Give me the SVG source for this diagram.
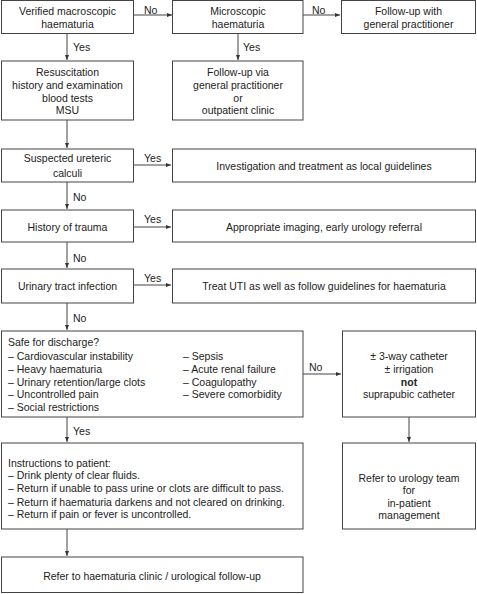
<svg xmlns="http://www.w3.org/2000/svg" width="477" height="594" viewBox="0 0 477 594">
<style>
.b{fill:#fff;stroke:#444;stroke-width:1}
.t{font-family:"Liberation Sans",Arial,sans-serif;font-size:10.5px;fill:#222}
.c{text-anchor:middle}
.l{fill:none;stroke:#444;stroke-width:1}
</style>
<defs>
<marker id="a" markerWidth="6" markerHeight="6" refX="5" refY="3" orient="auto" markerUnits="userSpaceOnUse">
<path d="M0,1 L5,3 L0,5 Z" fill="#333"/>
</marker>
</defs>
<rect width="477" height="594" fill="#fff"/>
<g id="connectors">
<path class="l" d="M134,15 H172" marker-end="url(#a)"/>
<path class="l" d="M303,15 H340" marker-end="url(#a)"/>
<path class="l" d="M67,33 V60" marker-end="url(#a)"/>
<path class="l" d="M238,33 V60" marker-end="url(#a)"/>
<path class="l" d="M67,120 V148" marker-end="url(#a)"/>
<path class="l" d="M134,165 H171" marker-end="url(#a)"/>
<path class="l" d="M67,182 V209" marker-end="url(#a)"/>
<path class="l" d="M134,227 H171" marker-end="url(#a)"/>
<path class="l" d="M67,242 V268" marker-end="url(#a)"/>
<path class="l" d="M134,285 H171" marker-end="url(#a)"/>
<path class="l" d="M67,303 V330" marker-end="url(#a)"/>
<path class="l" d="M303,374 H341" marker-end="url(#a)"/>
<path class="l" d="M67,417 V442" marker-end="url(#a)"/>
<path class="l" d="M409,417 V442" marker-end="url(#a)"/>
<path class="l" d="M67,529 V556" marker-end="url(#a)"/>
<text class="t" x="144" y="14">No</text>
<text class="t" x="312" y="14">No</text>
<text class="t" x="73" y="51">Yes</text>
<text class="t" x="243" y="51">Yes</text>
<text class="t" x="144" y="162">Yes</text>
<text class="t" x="73" y="201">No</text>
<text class="t" x="144" y="223">Yes</text>
<text class="t" x="73" y="262">No</text>
<text class="t" x="144" y="282">Yes</text>
<text class="t" x="73" y="322">No</text>
<text class="t" x="309" y="371">No</text>
<text class="t" x="73" y="435">Yes</text>
</g>
<g id="verified">
<rect class="b" x="1.5" y="0.5" width="132" height="33"/>
<text class="t c" x="67.5" y="15">Verified macroscopic</text>
<text class="t c" x="67.5" y="28">haematuria</text>
</g>
<g id="microscopic">
<rect class="b" x="172.5" y="0.5" width="130.5" height="33"/>
<text class="t c" x="238" y="15">Microscopic</text>
<text class="t c" x="238" y="28">haematuria</text>
</g>
<g id="followup-gp">
<rect class="b" x="341.5" y="0.5" width="134" height="33"/>
<text class="t c" x="408.5" y="15">Follow-up with</text>
<text class="t c" x="408.5" y="28">general practitioner</text>
</g>
<g id="resuscitation">
<rect class="b" x="1.5" y="61" width="132" height="59"/>
<text class="t c" x="67.5" y="76">Resuscitation</text>
<text class="t c" x="67.5" y="89">history and examination</text>
<text class="t c" x="67.5" y="102">blood tests</text>
<text class="t c" x="67.5" y="114">MSU</text>
</g>
<g id="followup-via">
<rect class="b" x="172.5" y="61" width="130.5" height="59"/>
<text class="t c" x="238" y="76">Follow-up via</text>
<text class="t c" x="238" y="89">general practitioner</text>
<text class="t c" x="238" y="102">or</text>
<text class="t c" x="238" y="114">outpatient clinic</text>
</g>
<g id="calculi">
<rect class="b" x="1.5" y="149" width="132" height="33"/>
<text class="t c" x="67.5" y="162">Suspected ureteric</text>
<text class="t c" x="67.5" y="177">calculi</text>
</g>
<g id="investigation">
<rect class="b" x="172.5" y="149" width="303" height="33"/>
<text class="t c" x="324" y="169.5">Investigation and treatment as local guidelines</text>
</g>
<g id="trauma">
<rect class="b" x="1.5" y="210" width="132" height="32"/>
<text class="t c" x="67.5" y="230.5">History of trauma</text>
</g>
<g id="imaging">
<rect class="b" x="172.5" y="210" width="303" height="32"/>
<text class="t c" x="324" y="230.5">Appropriate imaging, early urology referral</text>
</g>
<g id="uti">
<rect class="b" x="1.5" y="269" width="132" height="34"/>
<text class="t c" x="67.5" y="290">Urinary tract infection</text>
</g>
<g id="treat-uti">
<rect class="b" x="172.5" y="269" width="303" height="34"/>
<text class="t c" x="324" y="290">Treat UTI as well as follow guidelines for haematuria</text>
</g>
<g id="safe">
<rect class="b" x="1.5" y="331" width="301.5" height="86"/>
<text class="t" x="8" y="346">Safe for discharge?</text>
<text class="t" x="8" y="360">– Cardiovascular instability</text>
<text class="t" x="8" y="373">– Heavy haematuria</text>
<text class="t" x="8" y="386">– Urinary retention/large clots</text>
<text class="t" x="8" y="398">– Uncontrolled pain</text>
<text class="t" x="8" y="411">– Social restrictions</text>
<text class="t" x="183" y="360">– Sepsis</text>
<text class="t" x="183" y="373">– Acute renal failure</text>
<text class="t" x="183" y="386">– Coagulopathy</text>
<text class="t" x="183" y="398">– Severe comorbidity</text>
</g>
<g id="catheter">
<rect class="b" x="342.5" y="331" width="133" height="86"/>
<text class="t c" x="409" y="360">± 3-way catheter</text>
<text class="t c" x="409" y="373">± irrigation</text>
<text class="t c" x="409" y="386" font-weight="bold">not</text>
<text class="t c" x="409" y="398">suprapubic catheter</text>
</g>
<g id="instructions">
<rect class="b" x="1.5" y="443" width="301.5" height="86"/>
<text class="t" x="8" y="467">Instructions to patient:</text>
<text class="t" x="8" y="479">– Drink plenty of clear fluids.</text>
<text class="t" x="8" y="492">– Return if unable to pass urine or clots are difficult to pass.</text>
<text class="t" x="8" y="506">– Return if haematuria darkens and not cleared on drinking.</text>
<text class="t" x="8" y="518">– Return if pain or fever is uncontrolled.</text>
</g>
<g id="refer-urology">
<rect class="b" x="342.5" y="443" width="133" height="86"/>
<text class="t c" x="409" y="482">Refer to urology team</text>
<text class="t c" x="409" y="494">for</text>
<text class="t c" x="409" y="507">in-patient</text>
<text class="t c" x="409" y="519">management</text>
</g>
<g id="refer-clinic">
<rect class="b" x="1.5" y="557" width="301.5" height="35.5"/>
<text class="t c" x="152" y="579.5">Refer to haematuria clinic / urological follow-up</text>
</g>
</svg>
